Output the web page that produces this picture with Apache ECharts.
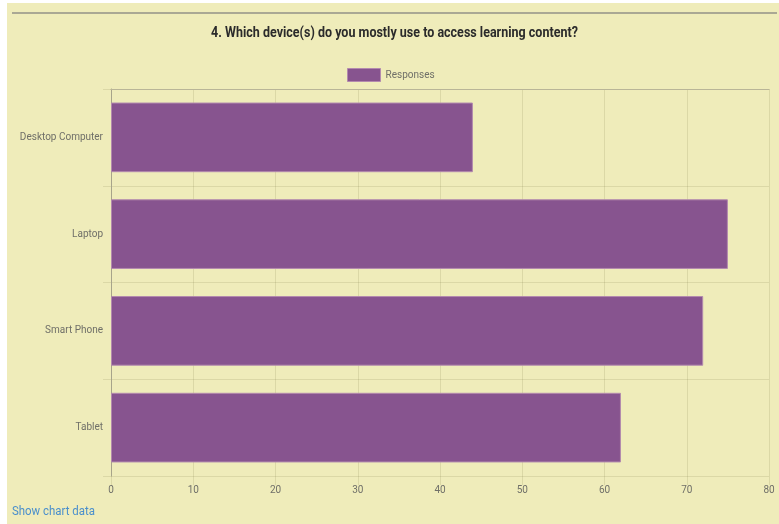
<!DOCTYPE html>
<html>
<head>
<meta charset="utf-8">
<script src="https://cdn.jsdelivr.net/npm/echarts@6/dist/echarts.min.js"></script>
<style>
  html, body { margin: 0; padding: 0; background: #fff; }
  #chart {
    position: absolute;
    left: 7px;
    top: 3px;
    width: 772px;
    height: 521px;
    background: #efecba;
  }
</style>
</head>
<body>
<div id="chart"></div>
<script>
const categories = ['Desktop Computer', 'Laptop', 'Smart Phone', 'Tablet']
const responses = [44, 75, 72, 62]
const seriesName = 'Responses'
const titleText = '4. Which device(s) do you mostly use to access learning content?'

const chart = echarts.init(document.getElementById('chart'))

const gridLine = 'rgba(120, 110, 60, 0.16)'
const labelColor = '#6f6f68'

chart.setOption({
  animation: false,
  legend: {
    data: [seriesName],
    top: 65,
    left: 340,
    padding: 0,
    icon: 'rect',
    itemWidth: 33,
    itemHeight: 13,
    itemGap: 5,
    itemStyle: { borderColor: '#b38aae', borderWidth: 1 },
    textStyle: { color: labelColor, fontSize: 10, fontFamily: 'Roboto, sans-serif' }
  },
  grid: { left: 104, right: 10, top: 86, bottom: 48 },
  xAxis: [
    {
      type: 'value',
      min: 0,
      max: 80,
      interval: 10,
      axisLine: { show: false },
      axisTick: { show: true, length: 9, lineStyle: { color: gridLine } },
      axisLabel: { color: labelColor, fontSize: 10, margin: 9, fontFamily: 'Roboto, sans-serif' },
      splitLine: { lineStyle: { color: gridLine } }
    },
    {
      type: 'value',
      position: 'top',
      min: 0,
      max: 80,
      axisLine: { show: true, lineStyle: { color: '#b9b597', width: 1 } },
      axisTick: { show: false },
      axisLabel: { show: false },
      splitLine: { show: false }
    }
  ],
  yAxis: {
    type: 'category',
    data: categories,
    inverse: true,
    axisLine: { show: true, lineStyle: { color: '#a7a48a' } },
    axisTick: { show: true, length: 8, lineStyle: { color: gridLine } },
    axisLabel: { color: labelColor, fontSize: 10, margin: 8, fontFamily: 'Roboto, sans-serif' },
    splitLine: { show: true, lineStyle: { color: gridLine } }
  },
  series: [
    {
      name: seriesName,
      type: 'bar',
      xAxisIndex: 0,
      data: responses,
      barCategoryGap: '28%',
      itemStyle: { color: '#87548f', borderColor: '#b38aae', borderWidth: 1 }
    }
  ],
  graphic: [
    {
      type: 'line',
      shape: { x1: 5, y1: 10, x2: 770, y2: 10 },
      style: { stroke: '#aaa894', lineWidth: 2 }
    },
    {
      type: 'text',
      x: 387.5,
      y: 30,
      scaleX: 0.894,
      style: {
        text: titleText,
        align: 'center',
        verticalAlign: 'middle',
        fill: '#2b2b2b',
        fontSize: 14,
        fontWeight: 'bold',
        fontFamily: 'Roboto, sans-serif'
      }
    },
    {
      type: 'text',
      x: 5,
      y: 509,
      scaleX: 0.88,
      style: {
        text: 'Show chart data',
        verticalAlign: 'middle',
        fill: '#4a8fcc',
        fontSize: 13,
        fontFamily: 'Roboto, sans-serif'
      }
    }
  ]
})
</script>
</body>
</html>
